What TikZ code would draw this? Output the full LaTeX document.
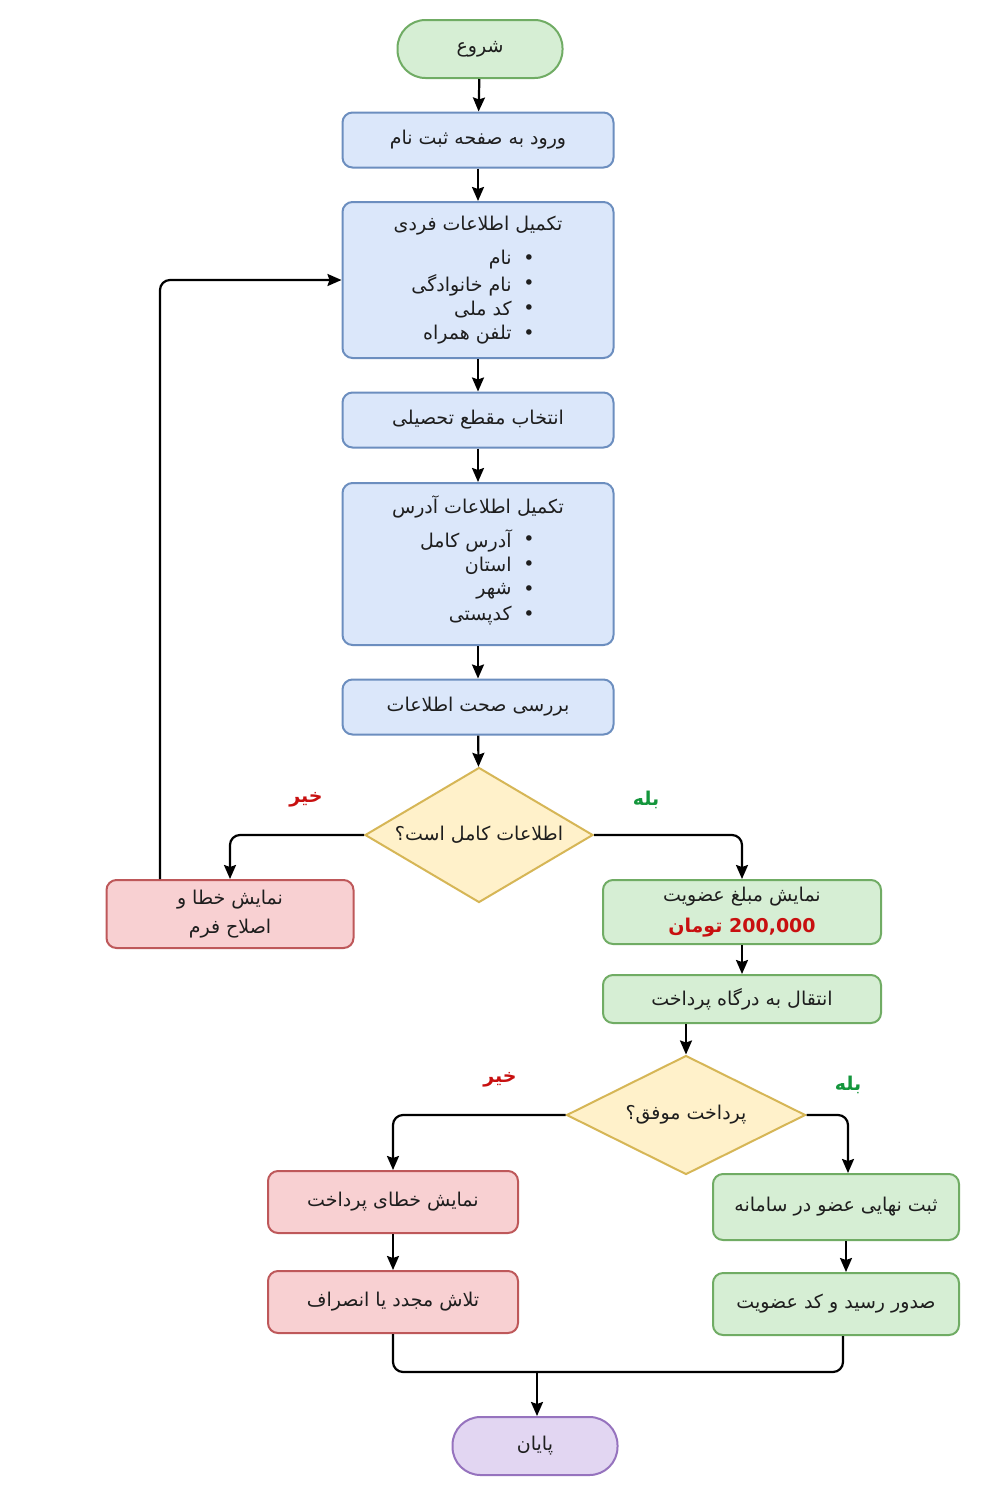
\documentclass[tikz,border=0pt]{standalone}
\usepackage{fontspec}
\newfontfamily\arabicfont[Script=Arabic]{DejaVu Sans}
\TeXXeTstate=1
\usetikzlibrary{shapes.geometric, arrows.meta, positioning}
\definecolor{bluefill}{RGB}{219, 231, 250}
\definecolor{blueline}{RGB}{108, 142, 191}
\definecolor{greenfill}{RGB}{214, 238, 212}
\definecolor{greenline}{RGB}{112, 172, 100}
\definecolor{redfill}{RGB}{248, 208, 210}
\definecolor{redline}{RGB}{190, 88, 90}
\definecolor{yellowfill}{RGB}{255, 241, 202}
\definecolor{yellowline}{RGB}{214, 182, 86}
\definecolor{purplefill}{RGB}{226, 214, 242}
\definecolor{purpleline}{RGB}{150, 115, 190}
\definecolor{textdark}{RGB}{30, 30, 30}
\definecolor{nored}{RGB}{200, 16, 16}
\definecolor{yesgreen}{RGB}{20, 150, 60}
\newcommand{\rl}[1]{\beginR #1\endR}

\tikzset{
  fa/.style={font=\arabicfont\fontsize{9.5}{13.5}\selectfont, text=textdark},
  flowbox/.style={fa, rectangle, rounded corners=5pt, line width=1pt, align=center, inner sep=2pt},
  bluebox/.style={flowbox, draw=blueline, fill=bluefill, minimum width=135.5pt, minimum height=27.5pt},
  greenbox/.style={flowbox, draw=greenline, fill=greenfill},
  redbox/.style={flowbox, draw=redline, fill=redfill},
  termbox/.style={flowbox, rounded corners=14pt, minimum width=82.5pt, minimum height=29pt},
  decision/.style={diamond, draw=yellowline, fill=yellowfill, line width=1pt, inner sep=0pt},
  conn/.style={-{Stealth[length=7pt, width=6pt, inset=1pt]}, line width=1.1pt, rounded corners=5pt},
  link/.style={line width=1.1pt, rounded corners=5pt}
}

\begin{document}
\begin{tikzpicture}[x=0.5pt, y=-0.5pt]
  \useasboundingbox[fill=white] (0,0) rectangle (1000,1500);

  % main column
  \node[termbox, draw=greenline, fill=greenfill] (start) at (480,49) {\rl{شروع}};
  \node[bluebox] (enter) at (478,140) {\rl{ورود به صفحه ثبت نام}};
  \node[bluebox, minimum height=78pt] (info) at (478,280) {};
  \node[fa] (infot) at (478,226) {\rl{تکمیل اطلاعات فردی}};
  \foreach \itm [count=\i] in {نام, نام خانوادگی, کد ملی, تلفن همراه} {
    \node[fa, anchor=east, inner sep=0pt] (info-\i) at (512,{235+25*\i}) {\rl{\itm}};
    \node[fa, inner sep=0pt] (infob-\i) at (529,{235+25*\i}) {•};
  }
  \node[bluebox] (level) at (478,420) {\rl{انتخاب مقطع تحصیلی}};
  \node[bluebox, minimum height=81pt] (addr) at (478,564) {};
  \node[fa] (addrt) at (478,507) {\rl{تکمیل اطلاعات آدرس}};
  \foreach \itm [count=\i] in {آدرس کامل, استان, شهر, کدپستی} {
    \node[fa, anchor=east, inner sep=0pt] (addr-\i) at (512,{516+25*\i}) {\rl{\itm}};
    \node[fa, inner sep=0pt] (addrb-\i) at (529,{516+25*\i}) {•};
  }
  \node[bluebox] (check) at (478,707) {\rl{بررسی صحت اطلاعات}};

  % first decision
  \node[decision, minimum width=114pt, minimum height=67.5pt] (dinfo) at (479,835) {};
  \node[fa] (dinfot) at (dinfo.center) {\rl{اطلاعات کامل است؟}};
  \node[redbox, minimum width=123.5pt, minimum height=34pt] (err) at (230,914)
    {\rl{نمایش خطا و}\\[1pt]\rl{اصلاح فرم}};
  \node[greenbox, minimum width=139pt, minimum height=32pt] (fee) at (742,912)
    {\rl{نمایش مبلغ عضویت}\\[2pt]{\bfseries\color{nored}\rl{\beginL 200,000\endL{} تومان}}};
  \node[greenbox, minimum width=139pt, minimum height=24pt] (gate) at (742,999) {\rl{انتقال به درگاه پرداخت}};

  % second decision
  \node[decision, minimum width=119.5pt, minimum height=59.5pt] (dpay) at (686,1115) {};
  \node[fa] (dpayt) at (dpay.center) {\rl{پرداخت موفق؟}};
  \node[redbox, minimum width=125pt, minimum height=31pt] (payerr) at (393,1202) {\rl{نمایش خطای پرداخت}};
  \node[redbox, minimum width=125pt, minimum height=31pt] (retry) at (393,1302) {\rl{تلاش مجدد یا انصراف}};
  \node[greenbox, minimum width=123pt, minimum height=33pt] (reg) at (836,1207) {\rl{ثبت نهایی عضو در سامانه}};
  \node[greenbox, minimum width=123pt, minimum height=31pt] (rcpt) at (836,1304) {\rl{صدور رسید و کد عضویت}};
  \node[termbox, draw=purpleline, fill=purplefill] (stop) at (535,1446) {\rl{پایان}};

  % branch labels
  \node[fa, font=\arabicfont\bfseries\fontsize{9.5}{12}\selectfont, text=nored] (no1) at (306,800) {\rl{خیر}};
  \node[fa, font=\arabicfont\bfseries\fontsize{9.5}{12}\selectfont, text=yesgreen] (yes1) at (646,800) {\rl{بله}};
  \node[fa, font=\arabicfont\bfseries\fontsize{9.5}{12}\selectfont, text=nored] (no2) at (500,1080) {\rl{خیر}};
  \node[fa, font=\arabicfont\bfseries\fontsize{9.5}{12}\selectfont, text=yesgreen] (yes2) at (848,1085) {\rl{بله}};

  % connectors
  \draw[conn] (start) -- (enter);
  \draw[conn] (enter) -- (info);
  \draw[conn] (info) -- (level);
  \draw[conn] (level) -- (addr);
  \draw[conn] (addr) -- (check);
  \draw[conn] (check) -- (dinfo);
  \draw[conn] (dinfo.west) -| (err.north);
  \draw[conn] (dinfo.east) -| (fee.north);
  \draw[conn] ([xshift=-35pt]err.north) |- (info.west);
  \draw[conn] (fee) -- (gate);
  \draw[conn] (dpay.north |- gate.south) -- (dpay.north);
  \draw[conn] (dpay.west) -| (payerr.north);
  \draw[conn] (dpay.east) -| ([xshift=6pt]reg.north);
  \draw[conn] (payerr) -- (retry);
  \draw[conn] ([xshift=5pt]reg.south) -- ([xshift=5pt]rcpt.north);
  \coordinate (merge) at ([xshift=1pt, yshift=22pt]stop.north);
  \draw[link] (retry.south) |- (merge);
  \draw[link] ([xshift=3.5pt]rcpt.south) |- (merge);
  \draw[conn] (merge) -- (merge |- stop.north);
\end{tikzpicture}
\end{document}
